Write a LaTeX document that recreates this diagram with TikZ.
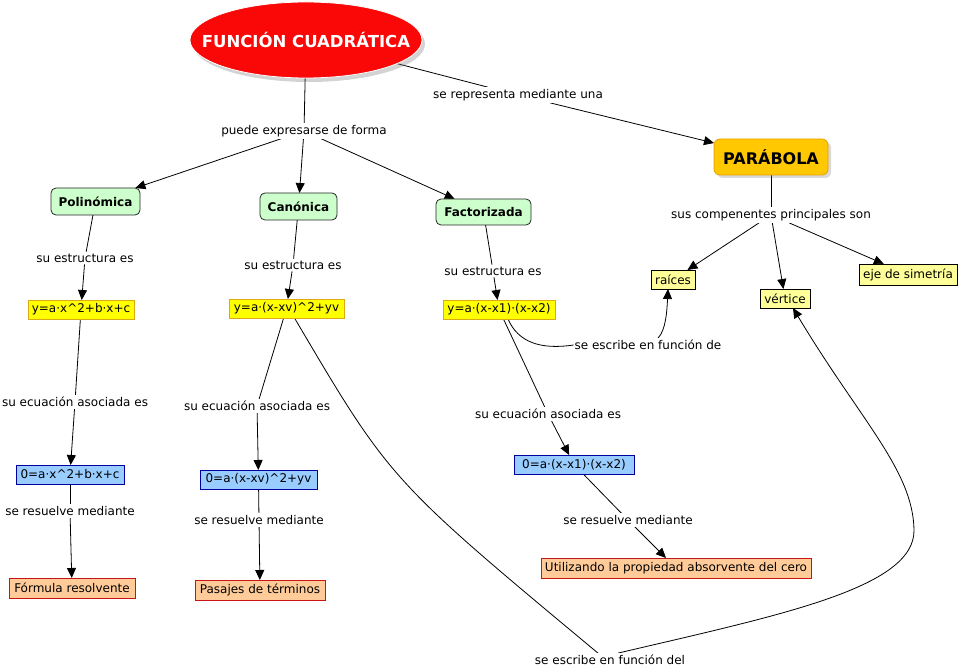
\documentclass[tikz,border=0pt]{standalone}
\usepackage{fontspec}
\setmainfont{DejaVu Sans}
\usetikzlibrary{arrows.meta,shapes.geometric,shadows,backgrounds}
\definecolor{titlered}{RGB}{250,8,8}
\definecolor{parab}{RGB}{255,200,0}
\definecolor{parabdraw}{RGB}{230,160,0}
\definecolor{lgreen}{RGB}{204,255,204}
\definecolor{ybright}{RGB}{255,255,0}
\definecolor{ydraw}{RGB}{220,170,20}
\definecolor{ylight}{RGB}{255,255,153}
\definecolor{lblue}{RGB}{153,204,255}
\definecolor{dblue}{RGB}{0,0,160}
\definecolor{lorange}{RGB}{255,204,153}
\definecolor{dred}{RGB}{200,20,20}
\tikzset{
  every node/.style={inner sep=0pt, outer sep=0pt, text=black},
  lab/.style={fill=white, inner xsep=1pt, inner ysep=2pt, font=\fontsize{12}{14}\selectfont},
  formbox/.style={rectangle, draw=black, line width=0.8pt, font=\fontsize{12}{14}\selectfont, align=center},
  greenbox/.style={formbox, rounded corners=5pt, fill=lgreen, draw=black!85, font=\fontsize{12}{14}\selectfont\bfseries},
  ybox/.style={formbox, fill=ybright, draw=ydraw},
  lybox/.style={formbox, fill=ylight, draw=black},
  bbox/.style={formbox, fill=lblue, draw=dblue},
  obox/.style={formbox, fill=lorange, draw=dred},
  link/.style={draw=black, line width=0.8pt},
  arr/.style={link, -{Triangle[length=10pt,width=9pt]}},
}
\begin{document}
\begin{tikzpicture}[x=1pt,y=-1pt]
\useasboundingbox (0,0) rectangle (960,668);
% main concepts
\node[ellipse, fill=titlered, draw=white, line width=0.8pt, minimum width=232pt, minimum height=76pt,
      drop shadow={shadow xshift=3pt, shadow yshift=-4pt, opacity=0.35}] (fc) at (306,40) {};
\node[text=white, font=\fontsize{16.5}{19}\selectfont\bfseries] (fct) at (fc.center) {FUNCIÓN CUADRÁTICA};
\node[rectangle, rounded corners=6pt, fill=parab, draw=parabdraw, line width=0.8pt,
      minimum width=114pt, minimum height=36pt,
      drop shadow={shadow xshift=3pt, shadow yshift=-3pt, opacity=0.3},
      font=\fontsize{16}{19}\selectfont\bfseries] (par) at (771,157) {PARÁBOLA};
% forms
\node[greenbox, minimum width=89pt, minimum height=27pt] (poli) at (95.5,201.5) {Polinómica};
\node[greenbox, minimum width=77pt, minimum height=27pt] (cano) at (298.5,206.5) {Canónica};
\node[greenbox, minimum width=95pt, minimum height=26pt] (fact) at (483.5,212) {Factorizada};
% structures
\node[ybox, minimum width=106pt, minimum height=19pt] (y1) at (81,309.5) {y=a·x\textasciicircum 2+b·x+c};
\node[ybox, minimum width=115pt, minimum height=19pt] (y2) at (286.5,308.5) {y=a·(x-xv)\textasciicircum 2+yv};
\node[ybox, minimum width=112pt, minimum height=19pt] (y3) at (499,309.5) {y=a·(x-x1)·(x-x2)};
% equations
\node[bbox, minimum width=108pt, minimum height=19pt] (z1) at (70,474.5) {0=a·x\textasciicircum 2+b·x+c};
\node[bbox, minimum width=117pt, minimum height=19pt] (z2) at (258.5,479.5) {0=a·(x-xv)\textasciicircum 2+yv};
\node[bbox, minimum width=120pt, minimum height=19pt] (z3) at (574,464.5) {0=a·(x-x1)·(x-x2)};
% methods
\node[obox, minimum width=126pt, minimum height=20pt] (f1) at (72,588) {Fórmula resolvente};
\node[obox, minimum width=130pt, minimum height=20pt] (f2) at (260,590) {Pasajes de términos};
\node[obox, minimum width=270pt, minimum height=20pt] (f3) at (676,568) {Utilizando la propiedad absorvente del cero};
% parabola parts
\node[lybox, minimum width=44pt, minimum height=19pt] (rai) at (673,279.5) {raíces};
\node[lybox, minimum width=50pt, minimum height=19pt] (ver) at (785,298.5) {vértice};
\node[lybox, minimum width=98pt, minimum height=21pt] (eje) at (908,274.5) {eje de simetría};
% linking labels
\node[lab] (lpf) at (304,131) {puede expresarse de forma};
\node[lab] (lsr) at (518,95) {se representa mediante una};
\node[lab] (lsc) at (771,215) {sus compenentes principales son};
\node[lab] (le1) at (85,258) {su estructura es};
\node[lab] (le2) at (293,265) {su estructura es};
\node[lab] (le3) at (493,271) {su estructura es};
\node[lab] (la1) at (75,402) {su ecuación asociada es};
\node[lab] (la2) at (257,406) {su ecuación asociada es};
\node[lab] (la3) at (548,414) {su ecuación asociada es};
\node[lab] (lr1) at (70,511) {se resuelve mediante};
\node[lab] (lr2) at (259,520) {se resuelve mediante};
\node[lab] (lr3) at (628,520) {se resuelve mediante};
\node[lab] (lfd) at (648,345) {se escribe en función de};
\node[lab] (lfv) at (610,660) {se escribe en función del};
\begin{pgfonlayer}{background}
\draw[link] (fc) -- (lpf);
\draw[arr] (lpf) -- (poli);
\draw[arr] (lpf) -- (cano);
\draw[arr] (lpf) -- (fact);
\draw[link] (fc) -- (lsr);
\draw[arr] (lsr) -- (par);
\draw[link] (par) -- (lsc);
\draw[arr] (lsc) -- (rai);
\draw[arr] (lsc) -- (ver);
\draw[arr] (lsc) -- (eje);
\draw[link] (poli) -- (le1);
\draw[arr] (le1) -- (y1);
\draw[link] (cano) -- (le2);
\draw[arr] (le2) -- (y2);
\draw[link] (fact) -- (le3);
\draw[arr] (le3) -- (y3);
\draw[link] (y1) -- (la1);
\draw[arr] (la1) -- (z1);
\draw[link] (y2) -- (la2);
\draw[arr] (la2) -- (z2);
\draw[link] (y3) -- (la3);
\draw[arr] (la3) -- (z3);
\draw[link] (z1) -- (lr1);
\draw[arr] (lr1) -- (f1);
\draw[link] (z2) -- (lr2);
\draw[arr] (lr2) -- (f2);
\draw[link] (z3) -- (lr3);
\draw[arr] (lr3) -- (f3);
% curved links
\draw[link] ([xshift=9pt]y3.south) .. controls (518,342) and (540,350) .. (lfd.west);
\draw[arr] ([xshift=10pt]lfd.north) .. controls (666,330) and (667,310) .. ([xshift=-5pt]rai.south);
\draw[link] ([xshift=8pt]y2.south) .. controls (390,480) .. ([xshift=-12pt]lfv.north);
\draw[arr] ([xshift=8pt]lfv.north) .. controls (780,615) and (915,588) .. (914,530) .. controls (913,470) and (860,420) .. ([xshift=8pt]ver.south);
\end{pgfonlayer}
\end{tikzpicture}
\end{document}
